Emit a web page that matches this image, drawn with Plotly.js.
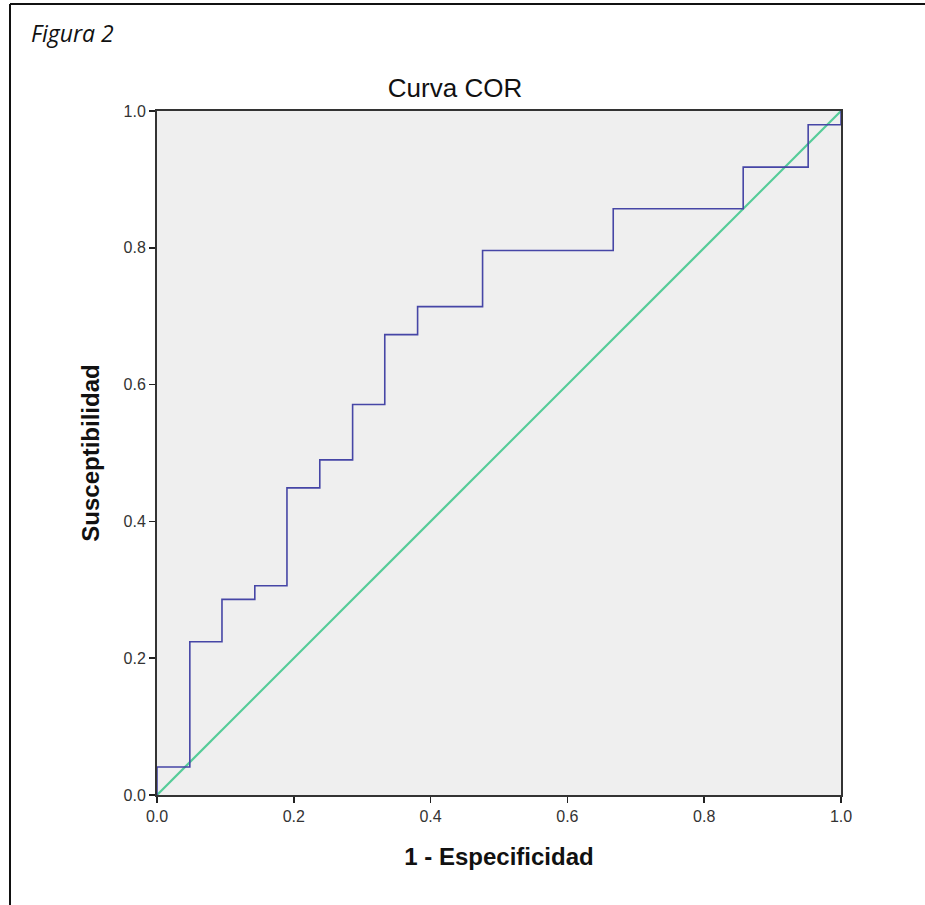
<!DOCTYPE html>
<html>
<head>
<meta charset="utf-8">
<script src="https://cdn.plot.ly/plotly-3.0.1.min.js"></script>
<style>
  html, body { margin: 0; padding: 0; background: #ffffff; }
  #chart { width: 925px; height: 905px; }
</style>
</head>
<body>
<div id="chart"></div>
<script>
// ROC curve corner points (1 - specificity, sensitivity)
const fpr = [0.000, 0.048, 0.095, 0.143, 0.190, 0.238, 0.286, 0.333, 0.381, 0.476, 0.667, 0.857, 0.952, 1.000, 1.000];
const tpr = [0.000, 0.041, 0.224, 0.286, 0.306, 0.449, 0.490, 0.571, 0.673, 0.714, 0.796, 0.857, 0.918, 0.980, 1.000];
// Reference line
const refX = [0, 1];
const refY = [0, 1];
const tickVals = [0, 0.2, 0.4, 0.6, 0.8, 1.0];
const tickText = ["0.0", "0.2", "0.4", "0.6", "0.8", "1.0"];

const traces = [
  {
    x: refX, y: refY, type: 'scatter', mode: 'lines',
    line: { color: '#55cc98', width: 2.2 },
    hoverinfo: 'skip', showlegend: false
  },
  {
    x: fpr, y: tpr, type: 'scatter', mode: 'lines',
    line: { color: '#4646a6', width: 1.6, shape: 'vh' },
    showlegend: false
  }
];

const axisCommon = {
  range: [0, 1],
  tickmode: 'array',
  tickvals: tickVals,
  ticktext: tickText,
  ticks: 'outside',
  ticklen: 6,
  tickwidth: 1.5,
  tickcolor: '#222',
  showgrid: false,
  zeroline: false,
  showline: true,
  linecolor: '#333',
  linewidth: 2,
  mirror: true,
  tickfont: { family: 'Liberation Sans, Arial, sans-serif', size: 16, color: '#333' },
  fixedrange: true
};

const layout = {
  width: 925, height: 905,
  paper_bgcolor: '#ffffff',
  plot_bgcolor: '#efefef',
  margin: { l: 157, r: 84, t: 111, b: 110 },
  title: {
    text: 'Curva COR',
    font: { family: 'Liberation Sans, Arial, sans-serif', size: 26, color: '#111' },
    x: 455 / 925, xanchor: 'center',
    y: 1 - 88 / 905, yanchor: 'middle'
  },
  xaxis: Object.assign({}, axisCommon, {
    title: { text: '<b>1 - Especificidad</b>', font: { family: 'Liberation Sans, Arial, sans-serif', size: 24, color: '#111' }, standoff: 24 }
  }),
  yaxis: Object.assign({}, axisCommon, {
    title: { text: '<b>Susceptibilidad</b>', font: { family: 'Liberation Sans, Arial, sans-serif', size: 24, color: '#111' }, standoff: 17 }
  }),
  annotations: [
    {
      text: '<i>Figura 2</i>', xref: 'paper', yref: 'paper',
      x: -128 / 684, y: 1 + 78 / 684, xanchor: 'left', yanchor: 'middle',
      showarrow: false,
      font: { family: 'Open Sans, Noto Sans, sans-serif', size: 23, color: '#111' }
    }
  ],
  shapes: [
    { type: 'line', xref: 'paper', yref: 'paper',
      x0: -147 / 684, x1: 768 / 684, y0: 1 + 107 / 684, y1: 1 + 107 / 684,
      line: { color: '#111', width: 2 } },
    { type: 'line', xref: 'paper', yref: 'paper',
      x0: -147 / 684, x1: -147 / 684, y0: 1 + 107 / 684, y1: -110 / 684,
      line: { color: '#111', width: 2 } }
  ]
};

Plotly.newPlot('chart', traces, layout, { displayModeBar: false, staticPlot: true });
</script>
</body>
</html>
